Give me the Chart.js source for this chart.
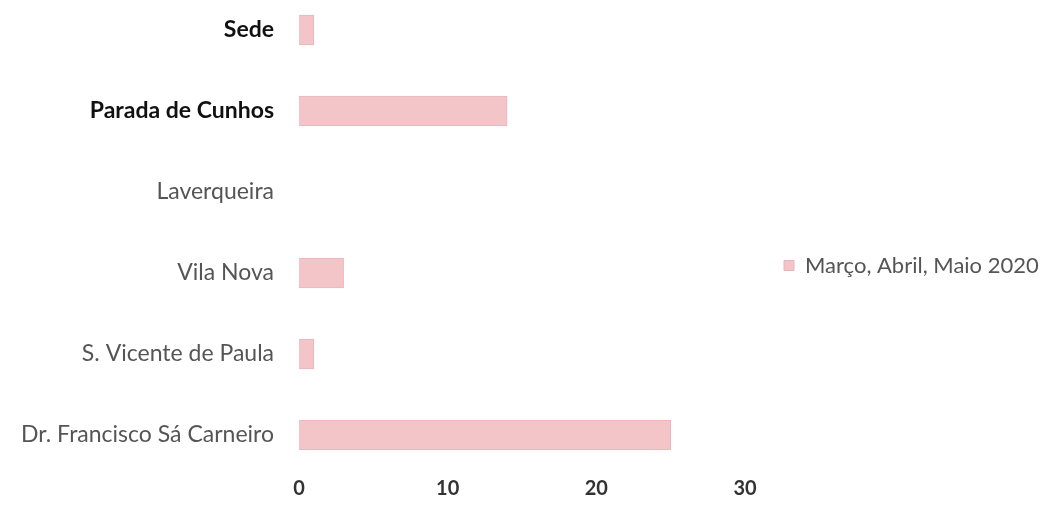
<!DOCTYPE html>
<html>
<head>
<meta charset="utf-8">
<script src="https://cdn.jsdelivr.net/npm/chart.js@4"></script>
<style>
  html, body { margin: 0; padding: 0; background: #fff; }
  #wrap { width: 1057px; height: 519px; }
</style>
</head>
<body>
<div id="wrap"><canvas id="escolasChart"></canvas></div>
<script>
// schools, top to bottom
var escolas = ['Sede', 'Parada de Cunhos', 'Laverqueira', 'Vila Nova', 'S. Vicente de Paula', 'Dr. Francisco Sá Carneiro'];
var marcoAbrilMaio = [1, 14, 0, 3, 1, 25];
var serieNome = 'Março, Abril, Maio 2020';
var xTicks = [0, 10, 20, 30];

var ctx = document.getElementById('escolasChart').getContext('2d');

// widen the legend box so the plot stops at the "30" tick,
// then nudge the legend item to where it sits in the original
var legendPlace = {
    id: 'legendPlace',
    beforeLayout: function (chart) {
        var lg = chart.legend;
        if (lg && !lg._wide) {
            var fit = lg.fit;
            lg.fit = function () {
                fit.call(this);
                this.width = 312;
            };
            lg._wide = true;
        }
    },
    afterLayout: function (chart) {
        var lg = chart.legend;
        if (!lg) return;
        lg.left += 29;
        lg.right += 29;
        lg.top -= 9;
        lg.bottom -= 9;
    }
};

var chart = new Chart(ctx, {
    type: 'bar',
    data: {
        labels: escolas,
        datasets: [{
            label: serieNome,
            data: marcoAbrilMaio,
            backgroundColor: '#f3c5c9',
            borderColor: '#ebb5ba',
            borderWidth: 1,
            barThickness: 30,
            clip: false
        }]
    },
    options: {
        indexAxis: 'y',
        responsive: true,
        maintainAspectRatio: false,
        animation: false,
        layout: {
            padding: { top: 30, bottom: 0, left: 0, right: 0 }
        },
        plugins: {
            tooltip: { enabled: false },
            legend: {
                position: 'right',
                labels: {
                    boxWidth: 10,
                    boxHeight: 10,
                    color: '#555',
                    padding: 10,
                    font: { family: 'Lato', size: 22 }
                }
            }
        },
        scales: {
            x: {
                min: 0,
                max: 30,
                afterBuildTicks: function (axis) {
                    axis.ticks = xTicks.map(function (v) { return { value: v }; });
                },
                afterFit: function (axis) {
                    axis.height = 84;
                    axis.paddingTop = 0;
                    axis.paddingBottom = 0;
                },
                grid: { display: false, drawTicks: false },
                border: { display: false },
                ticks: {
                    padding: 42,
                    color: '#333',
                    font: { family: 'Lato', size: 20, weight: 'bold' }
                }
            },
            y: {
                offset: false,
                afterFit: function (axis) {
                    axis.width = 299;
                    axis.paddingTop = 0;
                    axis.paddingBottom = 0;
                },
                grid: { display: false, drawTicks: false },
                border: { display: false },
                ticks: {
                    padding: 25,
                    color: function (c) { return c.index < 2 ? '#111' : '#555'; },
                    font: function (c) {
                        return { family: 'Lato', size: 23, weight: c.index < 2 ? 'bold' : 'normal' };
                    }
                }
            }
        }
    },
    plugins: [legendPlace]
});
</script>
</body>
</html>
